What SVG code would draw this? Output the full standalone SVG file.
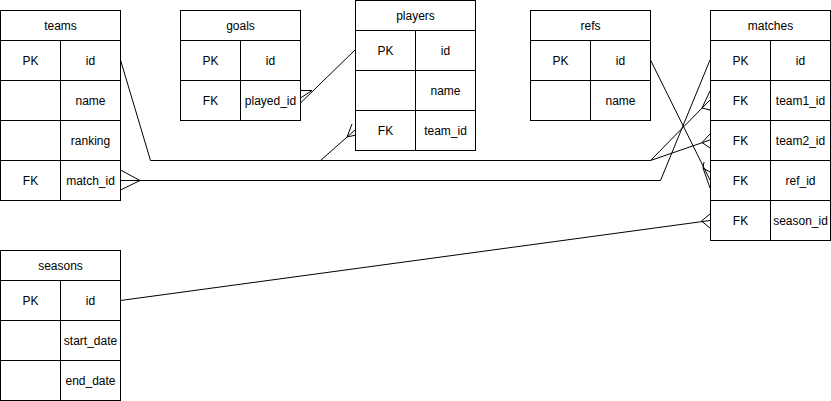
<svg xmlns="http://www.w3.org/2000/svg" width="831" height="401" viewBox="0 0 831 401">
<style>
.t{fill:#fff;stroke:#000;stroke-width:1}
.l{stroke:#000;stroke-width:1;fill:none}
text{font-family:"Liberation Sans",Arial,sans-serif;font-size:12px;fill:#000;text-anchor:middle}
.c{fill:none;stroke:#000;stroke-width:1}
</style>
<rect width="831" height="401" fill="#fff"/>
<g id="connectors" class="c">
<!-- teams.id -> players.team_id / matches.team1_id / team2_id -->
<polyline points="120.5,60 150.5,160.5 650.5,160.5 710,100"/>
<polyline points="320.5,160.5 355,130"/>
<polyline points="650.5,160.5 710,140"/>
<!-- crow's feet -->
<polyline points="710,91 702,108 710,110"/>
<polyline points="710,134 702,142.5 710,148"/>
<polyline points="352,124 347,137 356,135"/>
<!-- teams.match_id -> matches.id -->
<polyline points="120.5,180.5 660.5,180.5 710,60"/>
<polyline points="120.5,170 140,180.5 120.5,190"/>
<!-- goals.played_id -> players.id -->
<polyline points="355,50 300.5,103"/>
<polyline points="300.5,90.5 312,90.5 300.5,98"/>
<!-- refs.id -> matches.ref_id -->
<polyline points="650.5,60 710,180"/>
<polyline points="704,162 703,168 710,172"/>
<polyline points="703,168 710,188"/>
<!-- seasons.id -> matches.season_id -->
<polyline points="120.5,300.5 710,220.5"/>
<polyline points="710,214 701.5,221 710,228"/>
</g>
<g id="teams">
<rect class="t" x="0.5" y="10.5" width="120" height="190"/>
<path class="l" d="M0.5 40.5H120.5M0.5 80.5H120.5M0.5 120.5H120.5M0.5 160.5H120.5M60.5 40.5V200.5"/>
<text x="60.5" y="29.5">teams</text>
<text x="30.5" y="64.5">PK</text><text x="90.5" y="64.5">id</text>
<text x="90.5" y="104.5">name</text>
<text x="90.5" y="144.5">ranking</text>
<text x="30.5" y="184.5">FK</text><text x="90.5" y="184.5">match_id</text>
</g>
<g id="goals">
<rect class="t" x="180.5" y="10.5" width="120" height="110"/>
<path class="l" d="M180.5 40.5H300.5M180.5 80.5H300.5M240.5 40.5V120.5"/>
<text x="240.5" y="29.5">goals</text>
<text x="210.5" y="64.5">PK</text><text x="270.5" y="64.5">id</text>
<text x="210.5" y="104.5">FK</text><text x="270.5" y="104.5">played_id</text>
</g>
<g id="players">
<rect class="t" x="355.5" y="0.5" width="120" height="150"/>
<path class="l" d="M355.5 30.5H475.5M355.5 70.5H475.5M355.5 110.5H475.5M415.5 30.5V150.5"/>
<text x="415.5" y="19.5">players</text>
<text x="385.5" y="54.5">PK</text><text x="445.5" y="54.5">id</text>
<text x="445.5" y="94.5">name</text>
<text x="385.5" y="134.5">FK</text><text x="445.5" y="134.5">team_id</text>
</g>
<g id="refs">
<rect class="t" x="530.5" y="10.5" width="120" height="110"/>
<path class="l" d="M530.5 40.5H650.5M530.5 80.5H650.5M590.5 40.5V120.5"/>
<text x="590.5" y="29.5">refs</text>
<text x="560.5" y="64.5">PK</text><text x="620.5" y="64.5">id</text>
<text x="620.5" y="104.5">name</text>
</g>
<g id="matches">
<rect class="t" x="710.5" y="10.5" width="120" height="230"/>
<path class="l" d="M710.5 40.5H830.5M710.5 80.5H830.5M710.5 120.5H830.5M710.5 160.5H830.5M710.5 200.5H830.5M770.5 40.5V240.5"/>
<text x="770.5" y="29.5">matches</text>
<text x="740.5" y="64.5">PK</text><text x="800.5" y="64.5">id</text>
<text x="740.5" y="104.5">FK</text><text x="800.5" y="104.5">team1_id</text>
<text x="740.5" y="144.5">FK</text><text x="800.5" y="144.5">team2_id</text>
<text x="740.5" y="184.5">FK</text><text x="800.5" y="184.5">ref_id</text>
<text x="740.5" y="224.5">FK</text><text x="800.5" y="224.5">season_id</text>
</g>
<g id="seasons">
<rect class="t" x="0.5" y="250.5" width="120" height="150"/>
<path class="l" d="M0.5 280.5H120.5M0.5 320.5H120.5M0.5 360.5H120.5M60.5 280.5V400.5"/>
<text x="60.5" y="269.5">seasons</text>
<text x="30.5" y="304.5">PK</text><text x="90.5" y="304.5">id</text>
<text x="90.5" y="344.5">start_date</text>
<text x="90.5" y="384.5">end_date</text>
</g>
</svg>
